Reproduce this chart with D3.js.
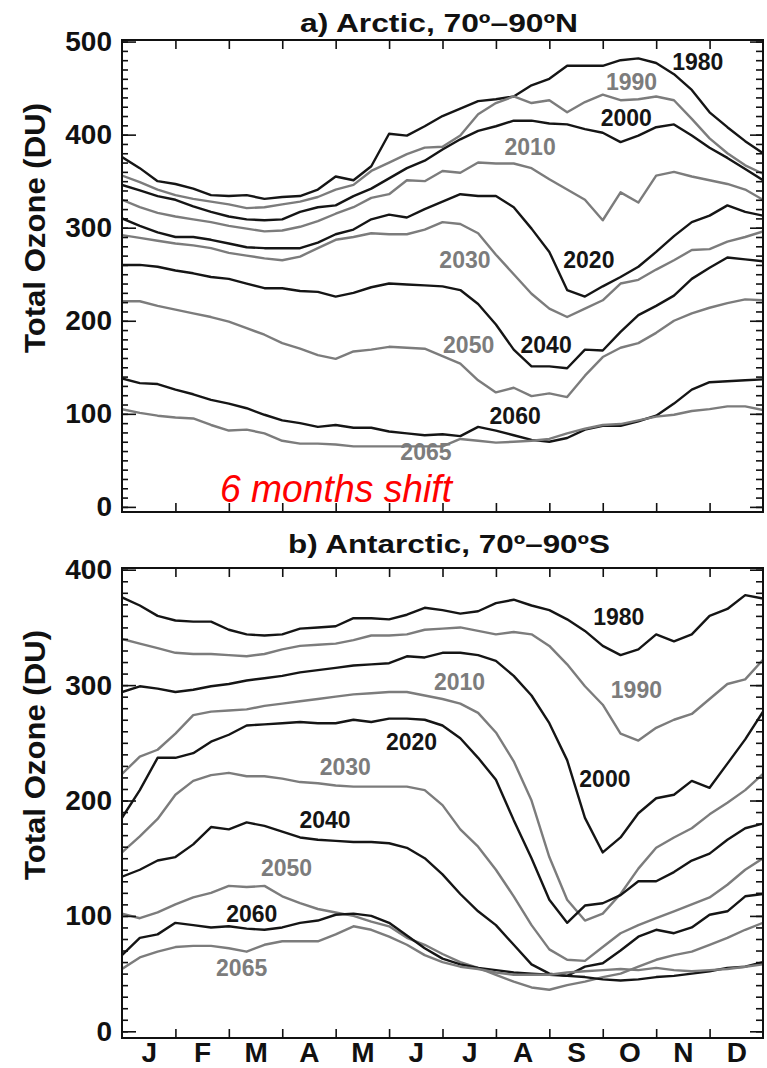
<!DOCTYPE html>
<html lang="en">
<head>
<meta charset="UTF-8">
<title>Total Ozone, Arctic and Antarctic</title>
<script src="https://cdnjs.cloudflare.com/ajax/libs/d3/7.8.5/d3.min.js"></script>
<style>
  body { margin: 0; background: #fff; }
  svg { display: block; font-family: Arial, "Liberation Sans", sans-serif; }
  .frame { fill: none; stroke: #111; stroke-width: 2; }
  .axis path { display: none; }
  .axis line { stroke: #111; stroke-width: 1.6; }
  .axis text { font-family: Arial, "Liberation Sans", sans-serif; font-weight: bold; fill: #111; }
  .title { font-size: 25px; font-weight: bold; fill: #111; }
  .ylabel { font-size: 29px; font-weight: bold; fill: #111; }
  .year { font-size: 23px; font-weight: bold; }
  .shift { font-size: 38px; font-style: italic; fill: #ff0000; }
</style>
</head>
<body>
<svg id="chart" width="767" height="1068"></svg>
<script>
// samples every third of a month, from 1 Jan (0) to 31 Dec (12)
const monthPos = d3.range(37).map(i => i / 3);
const monthLabels = ["J", "F", "M", "A", "M", "J", "J", "A", "S", "O", "N", "D"];
const years = ["1980", "1990", "2000", "2010", "2020", "2030", "2040", "2050", "2060", "2065"];

// a) Arctic 70-90N, total ozone (DU)
const arctic1980 = [376,364,350,347,342,335,334,335,331,333,334,341,355,351,366,401,399,409,420,428,436,438,441,453,460,474,474,474,480,482,477,465,448,424,408,393,380];
const arctic1990 = [356,349,341,335,331,328,325,321,322,325,328,333,341,346,361,370,379,386,387,399,422,434,441,434,437,424,435,443,437,438,441,437,417,396,380,367,358];
const arctic2000 = [346,340,334,330,323,317,312,309,308,309,317,322,324,334,342,353,364,372,384,395,404,409,415,415,412,411,406,402,392,399,408,411,399,386,375,363,351];
const arctic2010 = [330,322,316,312,309,306,302,299,296,297,301,307,315,322,332,336,351,350,361,359,370,369,369,364,352,341,330,308,338,327,356,360,355,351,347,341,330];
const arctic2020 = [310,302,295,290,290,287,283,279,278,278,278,284,293,298,309,314,311,320,328,336,334,334,322,299,274,233,226,237,247,258,274,291,306,313,324,317,313];
const arctic2030 = [292,289,286,283,281,278,273,270,267,265,269,278,287,290,294,293,293,298,306,304,294,271,250,229,213,204,213,222,240,244,255,265,276,277,285,290,296];
const arctic2040 = [260,260,258,254,251,247,245,240,235,235,232,231,226,230,236,240,239,238,237,233,218,196,169,151,151,149,169,168,188,206,216,227,245,257,268,266,264];
const arctic2050 = [221,221,216,212,208,204,199,192,185,176,170,163,159,167,169,172,171,170,162,154,136,123,128,119,122,118,141,161,171,176,187,200,208,214,219,223,222];
const arctic2060 = [138,133,132,126,121,115,111,106,99,93,90,86,88,85,85,81,79,77,78,76,86,82,77,72,70,74,83,87,87,92,98,111,126,134,135,136,137];
const arctic2065 = [105,101,98,96,95,88,82,83,79,71,68,68,67,65,65,65,65,65,65,73,71,69,70,71,73,79,84,88,89,93,97,99,103,105,108,108,104];

// b) Antarctic 70-90S, total ozone (DU)
const antarctic1980 = [376,369,360,356,355,355,348,344,343,344,349,350,351,358,358,357,361,367,365,362,364,371,374,369,365,357,347,334,326,331,344,338,344,360,366,378,375];
const antarctic1990 = [340,336,332,328,327,327,326,325,327,331,334,335,336,339,343,343,344,348,349,350,347,344,346,344,334,318,299,283,258,252,263,270,275,288,301,305,322];
const antarctic2000 = [294,299,297,294,296,299,301,304,306,308,311,313,315,317,318,319,325,324,328,328,326,321,308,291,267,235,185,155,168,189,202,205,217,211,232,253,277];
const antarctic2010 = [223,238,244,258,274,277,278,279,282,284,286,288,290,292,293,294,294,291,288,284,276,259,234,200,151,114,96,102,119,141,159,168,176,188,198,209,223];
const antarctic2020 = [185,209,237,237,241,251,257,265,266,267,268,267,267,270,268,271,271,270,265,254,237,218,183,150,114,94,109,111,118,130,130,138,148,154,166,176,180];
const antarctic2030 = [155,169,184,205,217,222,224,221,221,219,216,215,213,212,212,212,212,209,196,175,160,140,117,92,71,62,61,73,85,92,98,104,110,116,127,140,150];
const antarctic2040 = [134,140,148,151,162,177,175,181,178,173,168,166,165,164,164,163,159,150,136,119,104,92,75,58,50,48,56,59,70,82,88,85,90,101,104,117,119];
const antarctic2050 = [102,98,103,110,116,120,126,125,126,117,111,106,103,100,95,91,81,75,67,60,55,49,43,38,36,40,43,47,50,56,62,66,69,75,81,88,94];
const antarctic2060 = [66,81,84,94,92,90,91,89,88,90,94,96,101,102,100,94,83,72,63,58,55,53,51,50,49,48,47,45,44,45,47,48,50,52,55,56,60];
const antarctic2065 = [54,64,69,73,74,74,72,69,75,78,78,78,84,91,88,82,75,66,60,56,54,51,49,49,49,51,52,53,54,53,55,53,52,53,54,56,58];

// where each year label sits: [month, DU]
const arcticLabelPos = [[10.78,469],[9.54,448],[9.44,409],[7.64,378],[8.74,257],[6.42,257],[7.94,165],[6.49,165],[7.36,89],[5.69,50]];
const antarcticLabelPos = [[9.30,352],[9.63,289],[9.04,212],[6.32,296],[5.42,244],[4.18,222],[3.80,176],[3.08,135],[2.43,95],[2.24,48]];

const black = "#151515", grey = "#7c7c7c";

const svg = d3.select("#chart");
const left = 122, right = 763;
const x = d3.scaleLinear().domain([0, 12]).range([left, right]);

const panels = [
  {
    id: "a", title: "a) Arctic, 70º–90ºN", titleX: 439, titleY: 32, titleLen: 278,
    top: 40, bottom: 512, domain: [-5.5, 501.7], maxTick: 500, ylabelY: 228,
    series: [arctic1980, arctic1990, arctic2000, arctic2010, arctic2020, arctic2030, arctic2040, arctic2050, arctic2060, arctic2065],
    labels: arcticLabelPos
  },
  {
    id: "b", title: "b) Antarctic, 70º–90ºS", titleX: 449, titleY: 553, titleLen: 322,
    top: 568, bottom: 1038, domain: [-5.8, 401.5], maxTick: 400, ylabelY: 755,
    series: [antarctic1980, antarctic1990, antarctic2000, antarctic2010, antarctic2020, antarctic2030, antarctic2040, antarctic2050, antarctic2060, antarctic2065],
    labels: antarcticLabelPos,
    months: true
  }
];

panels.forEach(p => {
  const y = d3.scaleLinear().domain(p.domain).range([p.bottom, p.top]);
  const g = svg.append("g").attr("class", "panel-" + p.id);

  g.append("clipPath").attr("id", "clip-" + p.id)
    .append("rect")
    .attr("x", left).attr("y", p.top)
    .attr("width", right - left).attr("height", p.bottom - p.top);

  const line = d3.line()
    .x((d, i) => x(monthPos[i]))
    .y(d => y(d));

  g.append("g").attr("clip-path", `url(#clip-${p.id})`)
    .selectAll("path")
    .data(p.series)
    .join("path")
    .attr("d", line)
    .attr("fill", "none")
    .attr("stroke", (d, i) => i % 2 ? grey : black)
    .attr("stroke-width", 2.4)
    .attr("stroke-linejoin", "round");

  g.selectAll(".year")
    .data(p.labels)
    .join("text")
    .attr("class", "year")
    .attr("x", d => x(d[0]))
    .attr("y", d => y(d[1]))
    .attr("text-anchor", "middle")
    .attr("fill", (d, i) => i % 2 ? grey : black)
    .text((d, i) => years[i]);

  // axes: ticks point inward, minor every 10 DU
  const major = d3.range(0, p.maxTick + 1, 100);
  const minor = d3.range(0, p.maxTick + 1, 10);

  g.append("g").attr("class", "axis")
    .attr("transform", `translate(${left},0)`)
    .call(d3.axisLeft(y).tickValues(minor).tickSize(-6).tickFormat(""));
  g.append("g").attr("class", "axis")
    .attr("transform", `translate(${left},0)`)
    .call(d3.axisLeft(y).tickValues(major).tickSize(-14).tickPadding(10))
    .selectAll("text").attr("font-size", 28);

  g.append("g").attr("class", "axis")
    .attr("transform", `translate(${right},0)`)
    .call(d3.axisRight(y).tickValues(minor).tickSize(-7).tickFormat(""));
  g.append("g").attr("class", "axis")
    .attr("transform", `translate(${right},0)`)
    .call(d3.axisRight(y).tickValues(major).tickSize(-13).tickFormat(""));

  const monthTicks = d3.range(1, 12);
  g.append("g").attr("class", "axis")
    .attr("transform", `translate(0,${p.top})`)
    .call(d3.axisTop(x).tickValues(monthTicks).tickSize(-9).tickFormat(""));
  g.append("g").attr("class", "axis")
    .attr("transform", `translate(0,${p.bottom})`)
    .call(d3.axisBottom(x).tickValues(monthTicks).tickSize(-9).tickFormat(""));

  if (p.months) {
    g.append("g").attr("class", "axis")
      .attr("transform", `translate(0,${p.bottom})`)
      .call(d3.axisBottom(x).tickValues(d3.range(0.5, 12, 1)).tickSize(0).tickPadding(4)
        .tickFormat((d, i) => monthLabels[i]))
      .selectAll("text").attr("font-size", 28);
  }

  g.append("rect").attr("class", "frame")
    .attr("x", left).attr("y", p.top)
    .attr("width", right - left).attr("height", p.bottom - p.top);

  g.append("text").attr("class", "title")
    .attr("x", p.titleX).attr("y", p.titleY)
    .attr("text-anchor", "middle")
    .attr("textLength", p.titleLen).attr("lengthAdjust", "spacingAndGlyphs")
    .text(p.title);

  g.append("text").attr("class", "ylabel")
    .attr("transform", `translate(45,${p.ylabelY}) rotate(-90)`)
    .attr("text-anchor", "middle")
    .attr("textLength", 250).attr("lengthAdjust", "spacingAndGlyphs")
    .text("Total Ozone (DU)");
});

svg.append("text").attr("class", "shift")
  .attr("x", 220).attr("y", 502)
  .attr("textLength", 232).attr("lengthAdjust", "spacingAndGlyphs")
  .text("6 months shift");
</script>
</body>
</html>
